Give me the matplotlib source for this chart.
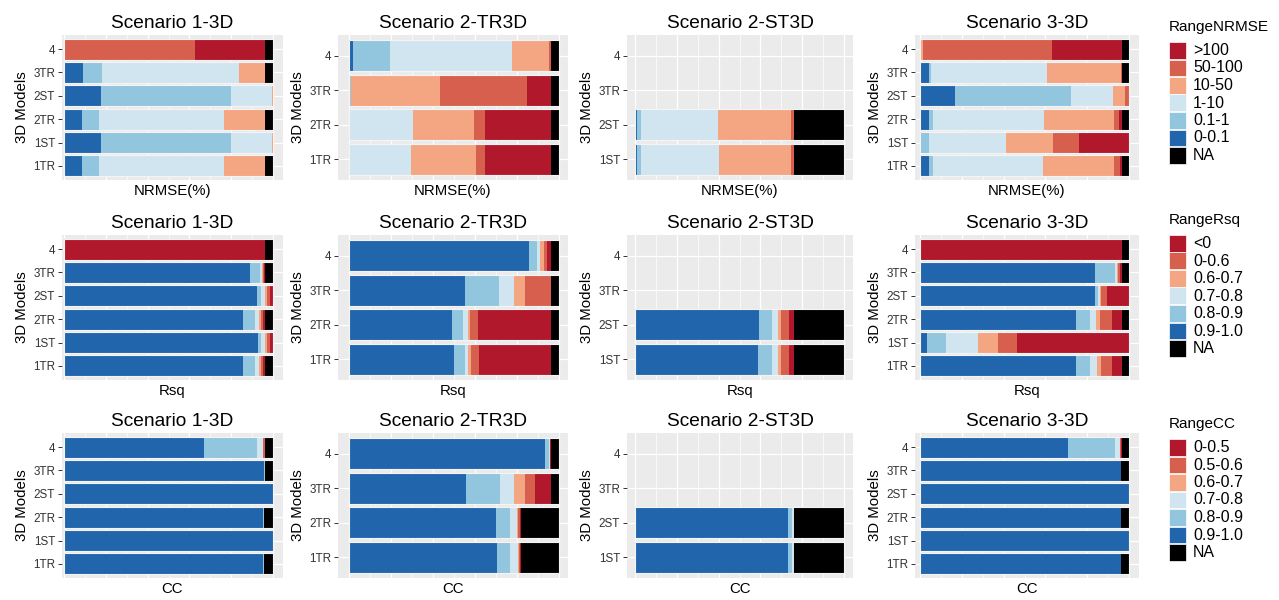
import matplotlib
matplotlib.use("Agg")
import matplotlib.pyplot as plt
from matplotlib.patches import Rectangle

plt.rcParams['font.family'] = ['Liberation Sans', 'DejaVu Sans']

# ---- data (fractions of stations, stacked left -> right, NA last) ----
scenarios = ["Scenario 1-3D", "Scenario 2-TR3D", "Scenario 2-ST3D", "Scenario 3-3D"]
models_s1 = ["4", "3TR", "2ST", "2TR", "1ST", "1TR"]
models_s2tr = ["4", "3TR", "2TR", "1TR"]
models_s2st = ["4", "3TR", "2ST", "1ST"]
models_s3 = ["4", "3TR", "2ST", "2TR", "1ST", "1TR"]

nrmse_classes = ["0-0.1", "0.1-1", "1-10", "10-50", "50-100", ">100", "NA"]
rsq_classes = ["0.9-1.0", "0.8-0.9", "0.7-0.8", "0.6-0.7", "0-0.6", "<0", "NA"]
cc_classes = ["0.9-1.0", "0.8-0.9", "0.7-0.8", "0.6-0.7", "0.5-0.6", "0-0.5", "NA"]

nrmse_s1 = [[0, 0, 0, 0.003, 0.623, 0.336, 0.038],
            [0.092, 0.092, 0.653, 0.124, 0.001, 0, 0.038],
            [0.175, 0.626, 0.194, 0.005, 0, 0, 0],
            [0.088, 0.080, 0.597, 0.197, 0, 0, 0.038],
            [0.175, 0.626, 0.194, 0.005, 0, 0, 0],
            [0.088, 0.080, 0.597, 0.197, 0, 0, 0.038]]
nrmse_s2tr = [[0.019, 0.175, 0.583, 0.174, 0.011, 0, 0.038],
              [0, 0.010, 0, 0.425, 0.414, 0.114, 0.037],
              [0, 0.006, 0.299, 0.290, 0.051, 0.317, 0.037],
              [0, 0.006, 0.288, 0.309, 0.046, 0.314, 0.037]]
nrmse_s2st = [[0, 0, 0, 0, 0, 0, 0],
              [0, 0, 0, 0, 0, 0, 0],
              [0.008, 0.020, 0.371, 0.347, 0.017, 0, 0.237],
              [0.008, 0.020, 0.374, 0.345, 0.016, 0, 0.237]]
nrmse_s3 = [[0, 0, 0, 0.016, 0.617, 0.333, 0.034],
            [0.042, 0.010, 0.556, 0.356, 0.002, 0, 0.034],
            [0.168, 0.554, 0.201, 0.056, 0.021, 0, 0],
            [0.042, 0.018, 0.532, 0.337, 0.024, 0.013, 0.034],
            [0.003, 0.042, 0.367, 0.224, 0.123, 0.241, 0],
            [0.042, 0.019, 0.527, 0.340, 0.027, 0.011, 0.034]]

rsq_s1 = [[0, 0, 0, 0, 0, 0.962, 0.038],
          [0.892, 0.048, 0.006, 0.005, 0.006, 0.005, 0.038],
          [0.924, 0.019, 0.019, 0.010, 0.013, 0.015, 0],
          [0.858, 0.056, 0.019, 0.010, 0.010, 0.009, 0.038],
          [0.927, 0.017, 0.018, 0.010, 0.013, 0.015, 0],
          [0.858, 0.056, 0.019, 0.010, 0.010, 0.009, 0.038]]
rsq_s2tr = [[0.858, 0.037, 0.016, 0.016, 0.018, 0.018, 0.037],
            [0.554, 0.162, 0.070, 0.053, 0.123, 0, 0.038],
            [0.492, 0.053, 0.024, 0.005, 0.041, 0.348, 0.037],
            [0.500, 0.053, 0.014, 0.013, 0.041, 0.342, 0.037]]
rsq_s2st = [[0, 0, 0, 0, 0, 0, 0],
            [0, 0, 0, 0, 0, 0, 0],
            [0.591, 0.065, 0.027, 0.016, 0.040, 0.024, 0.237],
            [0.588, 0.068, 0.027, 0.016, 0.040, 0.024, 0.237]]
rsq_s3 = [[0, 0, 0, 0, 0, 0.966, 0.034],
          [0.839, 0.093, 0.011, 0.003, 0.012, 0.008, 0.034],
          [0.836, 0.016, 0.008, 0.005, 0.030, 0.105, 0],
          [0.746, 0.069, 0.027, 0.021, 0.057, 0.046, 0.034],
          [0.035, 0.089, 0.152, 0.099, 0.090, 0.535, 0],
          [0.746, 0.069, 0.032, 0.018, 0.055, 0.046, 0.034]]

cc_s1 = [[0.669, 0.255, 0.027, 0.003, 0.006, 0.002, 0.038],
         [0.955, 0.005, 0, 0, 0, 0, 0.040],
         [1.0, 0, 0, 0, 0, 0, 0],
         [0.952, 0.006, 0, 0, 0, 0, 0.042],
         [1.0, 0, 0, 0, 0, 0, 0],
         [0.952, 0.006, 0, 0, 0, 0, 0.042]]
cc_s2tr = [[0.935, 0.019, 0.004, 0, 0, 0.005, 0.037],
           [0.556, 0.161, 0.070, 0.051, 0.048, 0.077, 0.037],
           [0.702, 0.065, 0.035, 0.005, 0.006, 0.004, 0.183],
           [0.704, 0.064, 0.035, 0.005, 0.006, 0.004, 0.182]]
cc_s2st = [[0, 0, 0, 0, 0, 0, 0],
           [0, 0, 0, 0, 0, 0, 0],
           [0.731, 0.021, 0.010, 0, 0, 0, 0.238],
           [0.731, 0.021, 0.010, 0, 0, 0, 0.238]]
cc_s3 = [[0.706, 0.228, 0.021, 0.002, 0.006, 0.003, 0.034],
         [0.960, 0.004, 0, 0, 0, 0, 0.036],
         [1.0, 0, 0, 0, 0, 0, 0],
         [0.960, 0.004, 0, 0, 0, 0, 0.036],
         [1.0, 0, 0, 0, 0, 0, 0],
         [0.960, 0.004, 0, 0, 0, 0, 0.036]]

# ---- styling ----
colors = ['#2166AC', '#92C5DE', '#D1E5F0', '#F4A582', '#D6604D', '#B2182B', '#000000']
models = [models_s1, models_s2tr, models_s2st, models_s3]
rows = [("NRMSE(%)", "RangeNRMSE", nrmse_classes, [nrmse_s1, nrmse_s2tr, nrmse_s2st, nrmse_s3]),
        ("Rsq", "RangeRsq", rsq_classes, [rsq_s1, rsq_s2tr, rsq_s2st, rsq_s3]),
        ("CC", "RangeCC", cc_classes, [cc_s1, cc_s2tr, cc_s2st, cc_s3])]

W, H = 1279, 600
fig = plt.figure(figsize=(W / 100, H / 100), dpi=100)

col_bg = [(62, 283), (338, 568), (627, 853), (915, 1139)]
col_bar = [(64, 273), (349, 559), (635, 844), (920, 1129)]
row_bg = [(35, 180), (235, 380), (433, 578)]
legend_top = [42, 235, 439]

for r, (xlab, legtitle, classes, panels) in enumerate(rows):
    y0, y1 = row_bg[r]
    for c in range(4):
        bx0, bx1 = col_bg[c]
        ax = fig.add_axes([bx0 / W, 1 - y1 / H, (bx1 - bx0) / W, (y1 - y0) / H])
        ax.set_facecolor('#EBEBEB')
        span = col_bar[c][1] - col_bar[c][0]
        ax.set_xlim(-(col_bar[c][0] - bx0) / span, 1 + (bx1 - col_bar[c][1]) / span)
        cats = models[c]
        n = len(cats)
        ypos = [n - 1 - i for i in range(n)]
        ax.set_ylim(-0.6, n - 1 + 0.6)
        # panel grid
        for k in range(11):
            ax.axvline(k / 10, color='white', lw=0.9 if k % 2 == 0 else 0.5, zorder=0)
        for yy in ypos:
            ax.axhline(yy, color='white', lw=0.9, zorder=0)
        data = panels[c]
        for i, vals in enumerate(data):
            if sum(vals) == 0:
                continue
            left = 0
            for j, v in enumerate(vals):
                if v > 0:
                    ax.barh(ypos[i], v, left=left, height=0.9, color=colors[j],
                            linewidth=0, zorder=2)
                left += v
            ax.barh(ypos[i], left, left=0, height=0.9, fill=False,
                    edgecolor='#F4F4F4', linewidth=0.8, zorder=3)
        ax.set_yticks(ypos)
        ax.set_yticklabels(cats)
        ax.set_xticks([])
        ax.tick_params(axis='y', length=3, width=0.7, color='#333333',
                       labelsize=8.4, labelcolor='#333333', pad=2)
        for s in ax.spines.values():
            s.set_visible(False)
        ax.set_title(scenarios[c], fontsize=13.8, pad=5)
        ax.set_xlabel(xlab, fontsize=10.8, labelpad=3)
        ax.set_ylabel("3D Models", fontsize=10.8, labelpad=3)

    # legend for this row
    ly = legend_top[r]
    fig.text(1169 / W, 1 - (ly - 15) / H, legtitle, fontsize=11, va='center', ha='left')
    order = list(range(len(classes) - 1))[::-1] + [len(classes) - 1]
    for k, j in enumerate(order):
        top = ly + k * 17.5
        fig.add_artist(Rectangle((1169 / W, 1 - (top + 16.7) / H), 17 / W, 16.7 / H,
                                 transform=fig.transFigure, facecolor=colors[j],
                                 edgecolor='white', linewidth=0.5))
        fig.text(1193 / W, 1 - (top + 8.5) / H, classes[j], fontsize=11.5,
                 va='center', ha='left')

fig.savefig("out.png", dpi=100)
